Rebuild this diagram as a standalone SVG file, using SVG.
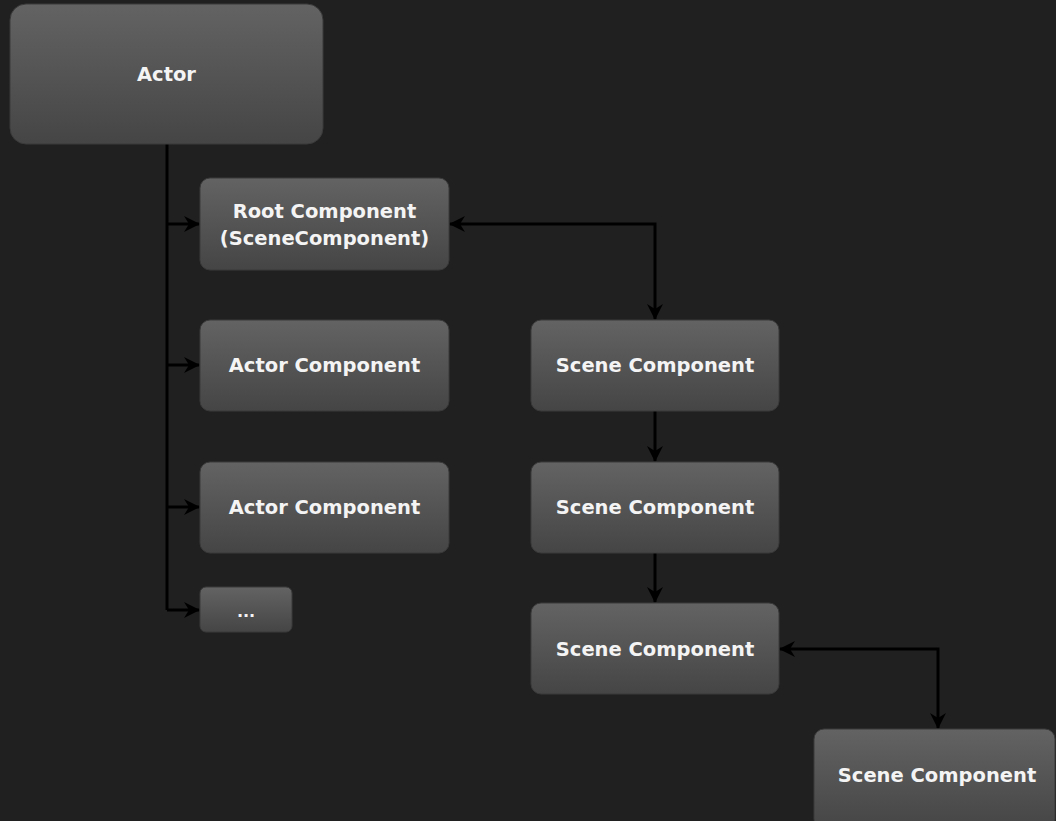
<svg xmlns="http://www.w3.org/2000/svg" width="1056" height="821" viewBox="0 0 1056 821">
<style>
.node{fill:url(#g);stroke:#3a3a3a;stroke-width:1}
.t{font-family:"DejaVu Sans",Verdana,sans-serif;font-weight:bold;font-size:19.5px;fill:#f4f4f4;text-anchor:middle;dominant-baseline:central}
.c{fill:none;stroke:#000;stroke-width:3}
</style>
<defs>
<linearGradient id="g" x1="0" y1="0" x2="0" y2="1">
<stop offset="0" stop-color="#636363"/>
<stop offset="1" stop-color="#454545"/>
</linearGradient>
<marker id="a" viewBox="0 0 16 16" refX="15" refY="8" markerWidth="16" markerHeight="16" markerUnits="userSpaceOnUse" orient="auto-start-reverse">
<path d="M0,0 L16,8 L0,16 L5,8 Z" fill="#000"/>
</marker>
</defs>
<rect width="1056" height="821" fill="#202020"/>
<g id="connectors">
<path class="c" d="M167,144 V610"/>
<path class="c" d="M167,224 H199" marker-end="url(#a)"/>
<path class="c" d="M167,365 H199" marker-end="url(#a)"/>
<path class="c" d="M167,507 H199" marker-end="url(#a)"/>
<path class="c" d="M167,610 H199" marker-end="url(#a)"/>
<path class="c" d="M450,224 H655 V319" marker-start="url(#a)" marker-end="url(#a)"/>
<path class="c" d="M655,411 V461" marker-end="url(#a)"/>
<path class="c" d="M655,553 V602" marker-end="url(#a)"/>
<path class="c" d="M780,649 H938 V728" marker-start="url(#a)" marker-end="url(#a)"/>
</g>
<g id="actor"><rect class="node" x="10" y="4" width="313" height="140" rx="16"/><text class="t" x="166.5" y="74">Actor</text></g>
<g id="root"><rect class="node" x="200" y="178" width="249" height="92" rx="10"/><text class="t" x="324.5" y="211">Root Component</text><text class="t" x="324.5" y="238">(SceneComponent)</text></g>
<g id="actorcomp1"><rect class="node" x="200" y="320" width="249" height="91" rx="10"/><text class="t" x="324.5" y="365">Actor Component</text></g>
<g id="actorcomp2"><rect class="node" x="200" y="462" width="249" height="91" rx="10"/><text class="t" x="324.5" y="507">Actor Component</text></g>
<g id="more"><rect class="node" x="200" y="587" width="92" height="45" rx="6"/><text class="t" x="246" y="611" style="font-size:16px">...</text></g>
<g id="scene1"><rect class="node" x="531" y="320" width="248" height="91" rx="10"/><text class="t" x="655" y="365">Scene Component</text></g>
<g id="scene2"><rect class="node" x="531" y="462" width="248" height="91" rx="10"/><text class="t" x="655" y="507">Scene Component</text></g>
<g id="scene3"><rect class="node" x="531" y="603" width="248" height="91" rx="10"/><text class="t" x="655" y="649">Scene Component</text></g>
<g id="scene4"><rect class="node" x="814" y="729" width="241" height="100" rx="10"/><text class="t" x="937" y="775">Scene Component</text></g>
</svg>
